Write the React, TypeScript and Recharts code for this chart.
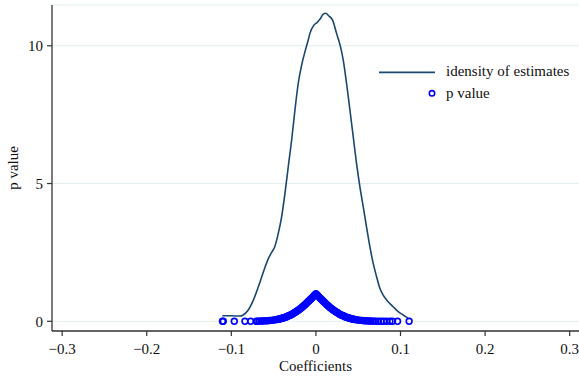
import React from 'react';
import { ComposedChart, Line, Scatter, XAxis, YAxis, CartesianGrid, Legend } from 'recharts';

// Kernel density of estimates (coefficient, density)
const densityX = [-0.1107, -0.100, -0.090, -0.086, -0.080, -0.074, -0.068, -0.062, -0.056, -0.052, -0.049, -0.0445, -0.0405, -0.0366, -0.0327, -0.0287, -0.0248, -0.0209, -0.0169, -0.013, -0.0091, -0.0071, -0.0024, 0.0016, 0.0047, 0.0087, 0.0118, 0.0146, 0.0197, 0.0244, 0.0291, 0.0323, 0.0362, 0.0402, 0.0441, 0.048, 0.052, 0.0559, 0.0598, 0.0638, 0.0677, 0.0717, 0.0756, 0.0795, 0.0854, 0.0913, 0.0972, 0.1031, 0.109];
const densityY = [0.20, 0.20, 0.19, 0.23, 0.41, 0.77, 1.26, 1.80, 2.29, 2.52, 2.68, 3.19, 3.80, 4.64, 5.61, 6.58, 7.67, 8.64, 9.30, 9.78, 10.21, 10.45, 10.75, 10.85, 10.96, 11.15, 11.18, 11.10, 10.93, 10.45, 9.96, 9.48, 8.64, 7.67, 6.70, 5.73, 4.88, 4.16, 3.43, 2.71, 2.10, 1.62, 1.20, 0.95, 0.71, 0.53, 0.35, 0.23, 0.11];

// p values of estimates (coefficient, p value)
const pX = [
  -0.1105, -0.1095, -0.0965, -0.0839, -0.0772, -0.0705,
  -0.069, -0.067, -0.065, -0.063, -0.061, -0.059, -0.057, -0.055, -0.053, -0.051, -0.049, -0.047,
  -0.045, -0.044, -0.043, -0.042, -0.041, -0.040, -0.039, -0.038, -0.037, -0.036, -0.035, -0.034,
  -0.033, -0.032, -0.031, -0.030, -0.029, -0.028, -0.027, -0.026, -0.025, -0.024, -0.023, -0.022,
  -0.021, -0.020, -0.019, -0.018, -0.017, -0.016, -0.015, -0.014, -0.013, -0.012, -0.011, -0.010,
  -0.009, -0.008, -0.007, -0.006, -0.005, -0.004, -0.003, -0.002, -0.001, 0,
  0.001, 0.002, 0.003, 0.004, 0.005, 0.006, 0.007, 0.008, 0.009, 0.010, 0.011, 0.012,
  0.013, 0.014, 0.015, 0.016, 0.017, 0.018, 0.019, 0.020, 0.021, 0.022, 0.023, 0.024,
  0.025, 0.026, 0.027, 0.028, 0.029, 0.030, 0.031, 0.032, 0.033, 0.034, 0.035, 0.036,
  0.037, 0.038, 0.039, 0.040, 0.041, 0.042, 0.043, 0.044, 0.045,
  0.047, 0.049, 0.051, 0.053, 0.055, 0.057, 0.059, 0.061, 0.063, 0.065, 0.067, 0.069,
  0.071, 0.074, 0.077, 0.080, 0.0835, 0.0875, 0.0906, 0.0965, 0.1102,
];
const pY = [
  0, 0, 0, 0, 0, 0,
  0.005, 0.007, 0.009, 0.011, 0.014, 0.018, 0.022, 0.028, 0.034, 0.042, 0.05, 0.06,
  0.072, 0.079, 0.086, 0.093, 0.10, 0.11, 0.12, 0.13, 0.14, 0.15, 0.16, 0.175,
  0.19, 0.20, 0.215, 0.23, 0.245, 0.26, 0.28, 0.30, 0.32, 0.34, 0.36, 0.38,
  0.40, 0.42, 0.445, 0.47, 0.495, 0.52, 0.55, 0.575, 0.60, 0.63, 0.66, 0.69,
  0.72, 0.75, 0.78, 0.81, 0.84, 0.87, 0.905, 0.94, 0.97, 1.0,
  0.97, 0.94, 0.905, 0.87, 0.84, 0.81, 0.78, 0.75, 0.72, 0.69, 0.66, 0.63,
  0.60, 0.575, 0.55, 0.52, 0.495, 0.47, 0.445, 0.42, 0.40, 0.38, 0.36, 0.34,
  0.32, 0.30, 0.28, 0.26, 0.245, 0.23, 0.215, 0.20, 0.19, 0.175, 0.16, 0.15,
  0.14, 0.13, 0.12, 0.11, 0.10, 0.093, 0.086, 0.079, 0.072,
  0.06, 0.05, 0.042, 0.034, 0.028, 0.022, 0.018, 0.014, 0.011, 0.009, 0.007, 0.005,
  0.004, 0.003, 0.002, 0.001, 0, 0, 0, 0, 0,
];

const xTicks = [-0.3, -0.2, -0.1, 0, 0.1, 0.2, 0.3];
const yTicks = [0, 5, 10];

const densityData = densityX.map((x, i) => ({ x, y: densityY[i] }));
const pData = pX.map((x, i) => ({ x, y: pY[i] }));

const FONT = '"Liberation Serif", "Times New Roman", serif';
const NAVY = '#1a476f';
const BLUE = '#0000ff';
const AXIS = '#333333';
const FS = 15;

const fmtX = (v: number) => {
  if (Math.abs(v) < 1e-9) return '0';
  const s = Math.abs(v).toFixed(1);
  return v < 0 ? '\u2212' + s : s;
};

const PCircle = (props: any) => {
  const { cx, cy } = props;
  if (cx == null || cy == null) return null;
  return <circle cx={cx} cy={cy} r={2.9} fill="none" stroke={BLUE} strokeWidth={1.6} />;
};

const renderLegend = () => (
  <svg width={209} height={45} style={{ display: 'block' }}>
    <line x1={9} x2={65} y1={12.3} y2={12.3} stroke={NAVY} strokeWidth={1.8} />
    <text x={76} y={16} fontSize={FS} fontFamily={FONT} fill="#111">idensity of estimates</text>
    <circle cx={62} cy={33.3} r={2.7} fill="none" stroke={BLUE} strokeWidth={1.6} />
    <text x={76} y={38} fontSize={FS} fontFamily={FONT} fill="#111">p value</text>
  </svg>
);

export default function App() {
  return (
    <div style={{ position: 'absolute', left: 0, top: 0, width: 579, height: 376, background: '#fff' }}>
      <ComposedChart width={579} height={376} margin={{ top: 5, right: 0, left: 0, bottom: 0 }} style={{ fontFamily: FONT }}>
        <CartesianGrid vertical={false} stroke="#e4eef1" strokeWidth={1} />
        <XAxis
          type="number"
          dataKey="x"
          domain={[-0.312, 0.311]}
          ticks={xTicks}
          interval={0}
          allowDataOverflow
          tickFormatter={fmtX}
          height={45}
          tickSize={5}
          tickMargin={7}
          axisLine={{ stroke: AXIS, strokeWidth: 1.3 }}
          tickLine={{ stroke: AXIS, strokeWidth: 1.2 }}
          tick={{ fill: '#111', fontSize: FS, fontFamily: FONT }}
          label={{ value: 'Coefficients', position: 'insideBottom', offset: 5, fill: '#111', fontSize: FS, fontFamily: FONT }}
        />
        <YAxis
          type="number"
          domain={[-0.352, 11.48]}
          ticks={yTicks}
          interval={0}
          allowDataOverflow
          width={52}
          tickSize={5}
          tickMargin={4}
          axisLine={{ stroke: AXIS, strokeWidth: 1.3 }}
          tickLine={{ stroke: AXIS, strokeWidth: 1.2 }}
          tick={{ fill: '#111', fontSize: FS, fontFamily: FONT }}
          label={{ value: 'p value', angle: -90, position: 'insideLeft', offset: 13, fill: '#111', fontSize: FS, fontFamily: FONT, style: { textAnchor: 'middle' } }}
        />
        <Line
          data={densityData}
          dataKey="y"
          type="monotone"
          stroke={NAVY}
          strokeWidth={1.6}
          dot={false}
          activeDot={false}
          isAnimationActive={false}
          name="idensity of estimates"
        />
        <Scatter
          data={pData}
          dataKey="y"
          shape={PCircle}
          isAnimationActive={false}
          name="p value"
        />
        <Legend
          layout="vertical"
          align="center"
          verticalAlign="middle"
          content={renderLegend}
          wrapperStyle={{ left: 370, top: 60, width: 209, height: 45 }}
        />
      </ComposedChart>
    </div>
  );
}
